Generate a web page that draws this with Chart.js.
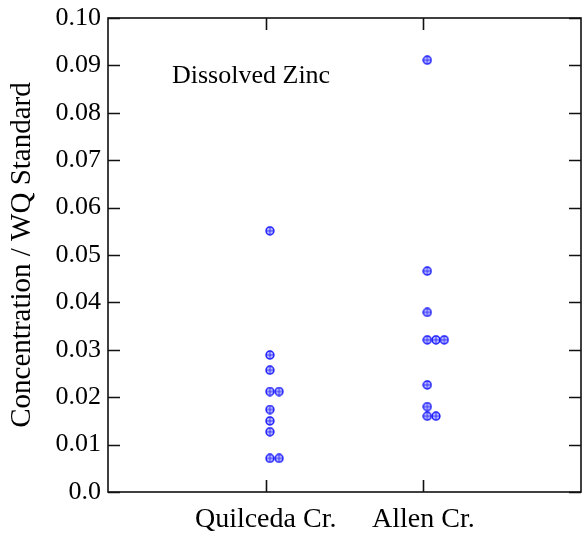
<!DOCTYPE html>
<html>
<head>
<meta charset="utf-8">
<script src="https://cdn.jsdelivr.net/npm/chart.js@4"></script>
<style>
  html, body { margin: 0; padding: 0; background: #fff; }
  #wrap { width: 582px; height: 537px; }
</style>
</head>
<body>
<div id="wrap"><canvas id="zincChart"></canvas></div>
<script>
// sites on the x axis (placed at 1 and 2)
const sites = ['Quilceda Cr.', 'Allen Cr.'];
const yTicks = [0, 0.01, 0.02, 0.03, 0.04, 0.05, 0.06, 0.07, 0.08, 0.09, 0.10];

// Quilceda Cr. samples (x = site position with small side offset for ties)
const quilX = [1.027, 1.027, 1.027, 1.027, 1.085, 1.027, 1.027, 1.027, 1.027, 1.085];
const quilY = [0.0551, 0.0289, 0.0257, 0.0212, 0.0212, 0.0174, 0.0150, 0.0127, 0.0071, 0.0071];

// Allen Cr. samples
const allenX = [2.025, 2.025, 2.025, 2.025, 2.080, 2.133, 2.025, 2.025, 2.025, 2.080];
const allenY = [0.0911, 0.0466, 0.0379, 0.0321, 0.0321, 0.0321, 0.0226, 0.0180, 0.0160, 0.0160];

const toPoints = (xs, ys) => xs.map((x, i) => ({ x: x, y: ys[i] }));

// circle with a cross inside
const marker = document.createElement('canvas');
marker.width = 10; marker.height = 10;
(function() {
    const c = marker.getContext('2d');
    c.strokeStyle = '#1414ff';
    c.fillStyle = '#c4c4ff';
    c.lineWidth = 1.5;
    c.beginPath();
    c.arc(5, 5, 3.9, 0, Math.PI * 2);
    c.fill();
    c.stroke();
    c.lineWidth = 1;
    c.strokeStyle = '#3030ff';
    c.beginPath();
    c.moveTo(1.5, 5); c.lineTo(8.5, 5);
    c.moveTo(5, 1.5); c.lineTo(5, 8.5);
    c.stroke();
})();

const FONT = "'Liberation Serif', 'Times New Roman', serif";

// frame with inward ticks on all four sides
const framePlugin = {
    id: 'frame',
    afterDatasetsDraw(chart) {
        const ctx = chart.ctx;
        const a = chart.chartArea;
        const xs = chart.scales.x, ys = chart.scales.y;
        const len = 12;
        ctx.save();
        ctx.strokeStyle = '#111';
        ctx.lineWidth = 1.6;
        ctx.strokeRect(a.left, a.top, a.right - a.left, a.bottom - a.top);
        ctx.beginPath();
        yTicks.forEach(v => {
            const py = Math.round(ys.getPixelForValue(v)) + 0.5;
            ctx.moveTo(a.left, py); ctx.lineTo(a.left + len, py);
            ctx.moveTo(a.right, py); ctx.lineTo(a.right - len, py);
        });
        [1, 2].forEach(v => {
            const px = Math.round(xs.getPixelForValue(v)) + 0.5;
            ctx.moveTo(px, a.bottom); ctx.lineTo(px, a.bottom - len);
            ctx.moveTo(px, a.top); ctx.lineTo(px, a.top + len);
        });
        ctx.stroke();

        ctx.fillStyle = '#000';
        ctx.font = '26px ' + FONT;
        ctx.textBaseline = 'alphabetic';
        ctx.fillText('Dissolved Zinc', 172, 83);
        ctx.restore();
    }
};

const ctx = document.getElementById('zincChart').getContext('2d');
const zincChart = new Chart(ctx, {
    type: 'scatter',
    data: {
        datasets: [
            { label: sites[0], data: toPoints(quilX, quilY) },
            { label: sites[1], data: toPoints(allenX, allenY) }
        ]
    },
    options: {
        responsive: true,
        maintainAspectRatio: false,
        animation: false,
        layout: { autoPadding: false, padding: { top: 18, right: 1, left: 0, bottom: 0 } },
        elements: {
            point: { pointStyle: marker, radius: 5, hoverRadius: 5 }
        },
        plugins: {
            legend: { display: false },
            tooltip: { enabled: false }
        },
        scales: {
            x: {
                type: 'linear',
                min: 0,
                max: 3,
                afterBuildTicks: (scale) => { scale.ticks = [{ value: 1 }, { value: 2 }]; },
                afterFit: (scale) => {
                    scale.height = 45;
                    scale.paddingLeft = 0;
                    scale.paddingRight = 0;
                },
                grid: { display: false, drawTicks: false },
                border: { display: false },
                ticks: {
                    color: '#000',
                    font: { family: FONT, size: 28 },
                    padding: 11,
                    maxRotation: 0,
                    callback: (v) => sites[v - 1]
                }
            },
            y: {
                min: 0,
                max: 0.10,
                afterBuildTicks: (scale) => { scale.ticks = yTicks.map(v => ({ value: v })); },
                afterFit: (scale) => {
                    scale.width = 108;
                    scale.paddingTop = 0;
                    scale.paddingBottom = 0;
                },
                grid: { display: false, drawTicks: false },
                border: { display: false },
                title: {
                    display: true,
                    text: 'Concentration / WQ Standard',
                    color: '#000',
                    font: { family: FONT, size: 29 },
                    padding: { top: 5, bottom: 0 }
                },
                ticks: {
                    color: '#000',
                    font: { family: FONT, size: 26 },
                    padding: 7,
                    callback: (v) => v === 0 ? '0.0' : v.toFixed(2)
                }
            }
        }
    },
    plugins: [framePlugin]
});
</script>
</body>
</html>
